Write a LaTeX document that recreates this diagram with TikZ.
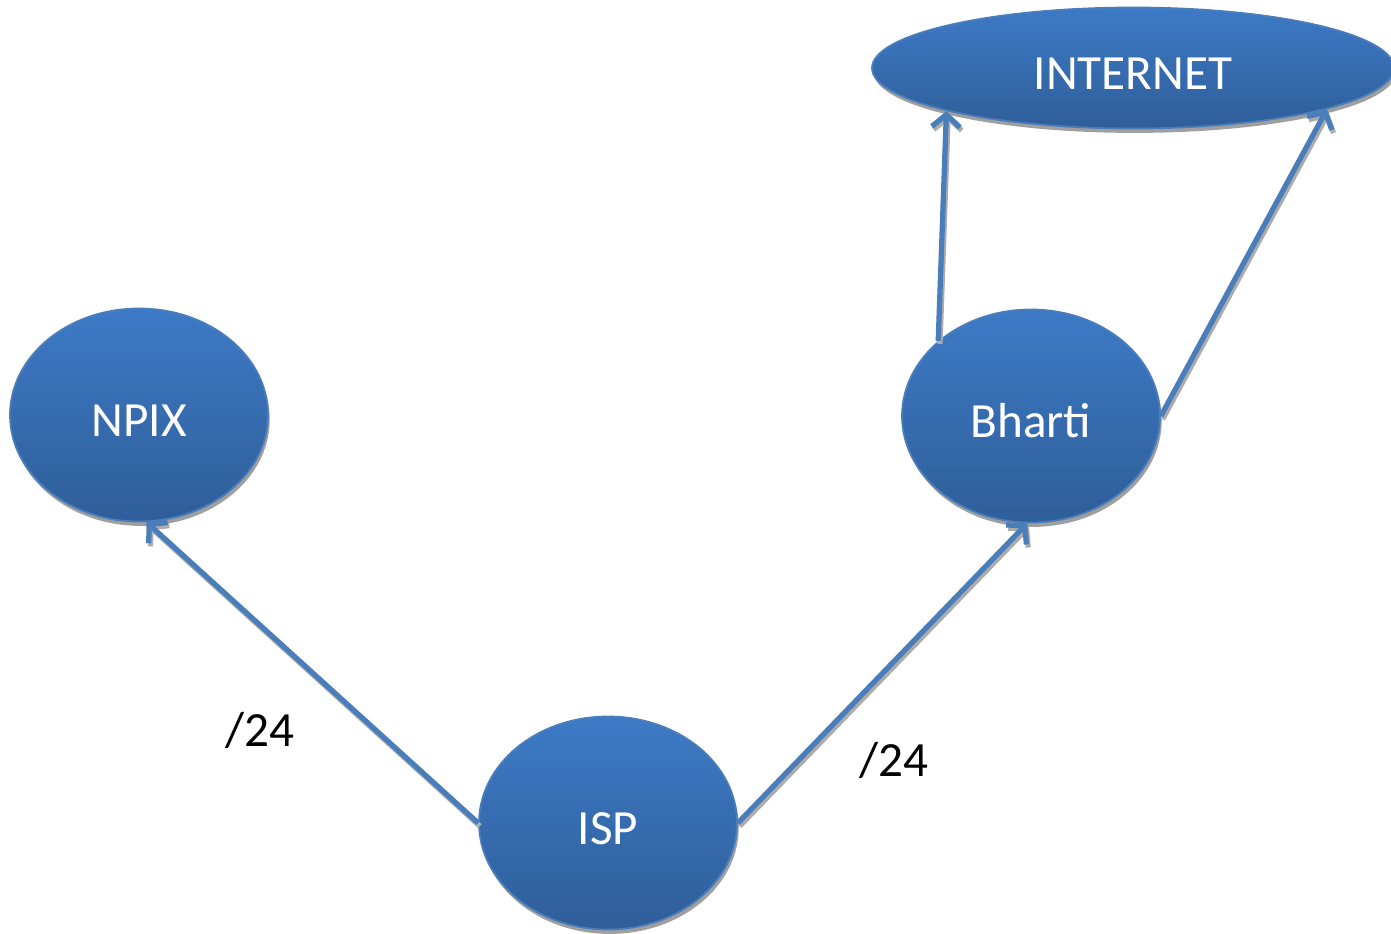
\documentclass[tikz,border=0pt]{standalone}
\usepackage{fontspec}
\setmainfont{Carlito}
\usetikzlibrary{shapes.geometric,shadows,arrows.meta}
\definecolor{nodetop}{HTML}{3D7AC6}
\definecolor{nodebottom}{HTML}{2F5E99}
\definecolor{linkblue}{HTML}{4A7EBB}
\tikzset{
  site/.style={ellipse,inner sep=0pt,draw=linkblue,line width=1pt,
    top color=nodetop,bottom color=nodebottom,text=white,
    font=\fontsize{28}{32}\selectfont,text height=24pt,text depth=0pt,
    minimum width=5.16cm,minimum height=4.26cm,
    drop shadow={shadow xshift=1pt,shadow yshift=-2.5pt,fill=gray!75,opacity=1}},
  link/.style={line width=3pt,draw=linkblue,-{Straight Barb[length=7pt,width=16pt]}},
  linkshadow/.style={link,draw=gray!65,transform canvas={xshift=1pt,yshift=-1.8pt}},
  mask/.style={font=\fontsize{28}{32}\selectfont,text=black}
}
\begin{document}
\begin{tikzpicture}[y=-1cm]
\useasboundingbox (0,0) rectangle (27.82,18.68);

% sites:
\node[site] (npix) at (2.78,8.30) {NPIX};
\node[site] (bharti) at (20.62,8.32) {Bharti};
\node[site] (isp) at (12.16,16.46) {ISP};
\node[site,minimum width=10.44cm,minimum height=2.42cm] (internet) at (22.66,1.36) {INTERNET};

% links, shadow first:
\foreach \from/\to in {isp.west/npix.-86,isp.east/bharti.-92,bharti.141/internet.-167,bharti.east/internet.-12}{
  \draw[linkshadow] (\from) -- (\to);
  \draw[link] (\from) -- (\to);
}

% prefix lengths:
\node[mask] (left24) at (5.2,14.6) {/24};
\node[mask] (right24) at (17.88,15.2) {/24};

\end{tikzpicture}
\end{document}
